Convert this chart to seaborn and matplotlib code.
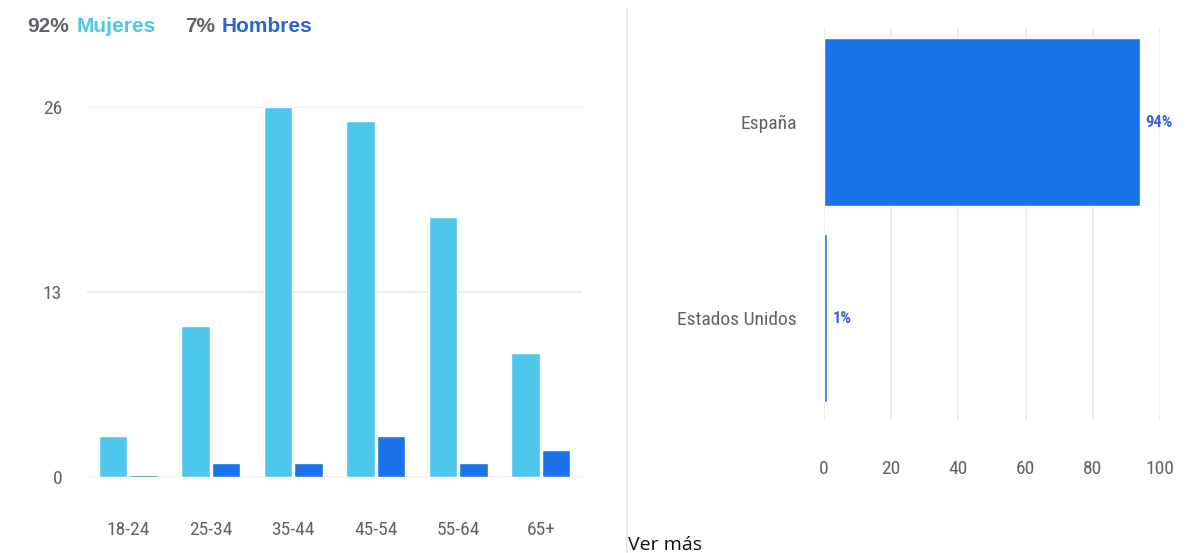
import matplotlib
matplotlib.use('Agg')
import matplotlib.pyplot as plt
import pandas as pd
import seaborn as sns

# Data
edades = ['18-24', '25-34', '35-44', '45-54', '55-64', '65+']
mujeres = [2.9, 10.6, 26, 25, 18.3, 8.7]
hombres = [0.15, 1, 1, 2.9, 1, 1.9]
pct_mujeres = '92%'
pct_hombres = '7%'

paises = ['España', 'Estados Unidos']
pais_pct = [94, 1]

# Colours
c_mujeres = '#4fc6ec'
c_hombres = '#1a73e8'
c_titulo_h = '#2f62d6'
c_texto = '#5f6368'
c_valor = '#3f63d4'
c_grid = '#ebebeb'

sns.set_theme(style='white')
narrow = ['DejaVu Sans Condensed', 'Liberation Sans Narrow', 'Roboto Condensed', 'Liberation Sans', 'DejaVu Sans']
plt.rcParams['font.family'] = narrow

fig = plt.figure(figsize=(11.89, 5.53), dpi=100)
W, H = 1189, 553

def px_axes(x0, y0, x1, y1):
    return fig.add_axes([x0 / W, 1 - y1 / H, (x1 - x0) / W, (y1 - y0) / H])

# Age / gender chart
ax1 = px_axes(87, 107, 582, 477)
df_edad = pd.DataFrame({
    'edad': edades * 2,
    'valor': mujeres + hombres,
    'genero': ['Mujeres'] * len(edades) + ['Hombres'] * len(edades),
})
sns.barplot(data=df_edad, x='edad', y='valor', hue='genero',
            palette={'Mujeres': c_mujeres, 'Hombres': c_hombres},
            width=0.74, gap=0.06, saturation=1, legend=False, ax=ax1)
ax1.set_ylim(0, 26)
ax1.set_xlim(-0.5, len(edades) - 0.5)
ax1.set_yticks([0, 13, 26])
ax1.set_yticklabels(['0', '13', '26'])
ax1.grid(axis='y', color=c_grid, lw=1.2)
ax1.set_axisbelow(True)
ax1.set_xlabel('')
ax1.set_ylabel('')
sns.despine(ax=ax1, left=True, bottom=True)
ax1.tick_params(axis='y', length=0, pad=18, labelsize=14, labelcolor=c_texto)
ax1.tick_params(axis='x', length=0, pad=32, labelsize=14, labelcolor=c_texto)

# Header with percentages
head = ['Liberation Sans', 'DejaVu Sans']
fig.text(27 / W, 1 - 26 / H, pct_mujeres, color=c_texto, fontsize=15,
         fontweight='bold', va='center', family=head)
fig.text(77 / W, 1 - 26 / H, 'Mujeres', color=c_mujeres, fontsize=15,
         fontweight='bold', va='center', family=head)
fig.text(185 / W, 1 - 26 / H, pct_hombres, color=c_texto, fontsize=15,
         fontweight='bold', va='center', family=head)
fig.text(222 / W, 1 - 26 / H, 'Hombres', color=c_titulo_h, fontsize=15,
         fontweight='bold', va='center', family=head)

# Separator
fig.add_artist(plt.Line2D([627 / W, 627 / W], [0, 1 - 8 / H], color='#e3e3e3', lw=1.2))

# Country chart
ax2 = px_axes(824, 28, 1160, 420)
df_pais = pd.DataFrame({'pais': paises, 'pct': pais_pct})
sns.barplot(data=df_pais, y='pais', x='pct', color=c_hombres, width=0.86,
            saturation=1, ax=ax2)
ax2.set_xlim(0, 100)
ax2.set_ylim(1.52, -0.48)
ax2.set_xticks([0, 20, 40, 60, 80, 100])
ax2.grid(axis='x', color=c_grid, lw=1.2)
ax2.set_axisbelow(True)
ax2.set_xlabel('')
ax2.set_ylabel('')
sns.despine(ax=ax2, left=True, bottom=True)
ax2.tick_params(axis='x', length=0, pad=29, labelsize=14, labelcolor=c_texto)
ax2.tick_params(axis='y', length=0, pad=19.5, labelsize=14, labelcolor=c_texto)
for i, v in enumerate(pais_pct):
    ax2.annotate(f'{v}%', (v, i), xytext=(4, 0), textcoords='offset points',
                 color=c_valor, fontsize=12, fontweight='bold', va='center')

fig.text(628 / W, 1 - 536 / H, 'Ver más', color='#111111', fontsize=14,
         va='top', family=['Open Sans', 'DejaVu Sans'])

fig.savefig('out.png', dpi=100)
